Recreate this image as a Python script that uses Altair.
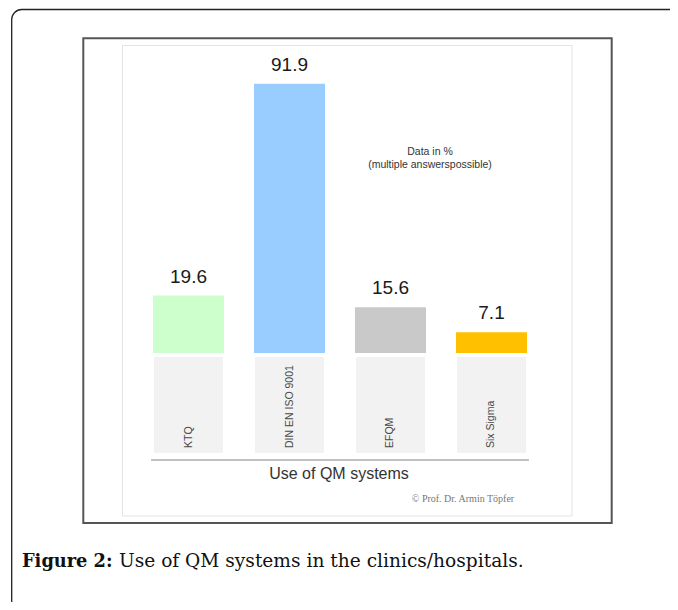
import altair as alt
import pandas as pd

# ---- data ----
categories = ["KTQ", "DIN EN ISO 9001", "EFQM", "Six Sigma"]
values = [19.6, 91.9, 15.6, 7.1]
value_labels = ["19.6", "91.9", "15.6", "7.1"]
bar_colors = ["#ccffcc", "#99ccff", "#c9c9c9", "#ffc000"]
axis_title = "Use of QM systems"
note_lines = ["Data in %", "(multiple answerspossible)"]
credit = "© Prof. Dr. Armin Töpfer"
caption_bold = "Figure 2:"
caption_text = "Use of QM systems in the clinics/hospitals."

df = pd.DataFrame({"system": categories, "share": values, "label": value_labels})
one = pd.DataFrame({"k": [0]})

W, H = 662, 594
SANS = "Liberation Sans"
SERIF = "DejaVu Serif"

xscale = alt.Scale(domain=categories, range=[145, 519], paddingInner=0.297, paddingOuter=0)
yscale = alt.Scale(domain=[0, 100], range=[345, 52])

X = alt.X("system:N", scale=xscale, axis=None, sort=categories)
base = alt.Chart(df)

# frames
outer = alt.Chart(one).mark_rect(fill="transparent", stroke="#222222", strokeWidth=1.3, cornerRadius=10).encode(
    x=alt.value(3.7), x2=alt.value(760), y=alt.value(1.5), y2=alt.value(760))
inner = alt.Chart(one).mark_rect(fill="white", stroke="#555555", strokeWidth=2).encode(
    x=alt.value(75.3), x2=alt.value(603.7), y=alt.value(30.3), y2=alt.value(515))
light = alt.Chart(one).mark_rect(fill="white", stroke="#e3e3e3", strokeWidth=1).encode(
    x=alt.value(114.5), x2=alt.value(564), y=alt.value(37.5), y2=alt.value(508))

label_boxes = base.mark_bar(color="#f2f2f2", width=alt.RelativeBandSize(0.97)).encode(
    x=X, y=alt.value(349), y2=alt.value(445))

bars = base.mark_bar().encode(
    x=X,
    y=alt.Y("share:Q", scale=yscale, axis=None),
    color=alt.Color("system:N", scale=alt.Scale(domain=categories, range=bar_colors), legend=None),
)

value_text = base.mark_text(dy=-19, baseline="middle", fontSize=19, font=SANS, color="#1a1a1a").encode(
    x=X, y=alt.Y("share:Q", scale=yscale, axis=None), text="label:N")

cat_text = base.mark_text(angle=270, align="left", baseline="middle", fontSize=10.5, font=SANS, color="#4a4a4a").encode(
    x=X, y=alt.value(440), text="system:N")

rule = alt.Chart(one).mark_rule(color="#c0c0c0", strokeWidth=2).encode(
    x=alt.value(143), x2=alt.value(521), y=alt.value(452))

note1 = alt.Chart(one).mark_text(text=note_lines[0], fontSize=10.5, font=SANS, color="#333333", baseline="middle").encode(
    x=alt.value(422), y=alt.value(144))
note2 = alt.Chart(one).mark_text(text=note_lines[1], fontSize=10.5, font=SANS, color="#333333", baseline="middle").encode(
    x=alt.value(422), y=alt.value(157))

title_text = alt.Chart(one).mark_text(text=axis_title, fontSize=16, font=SANS, color="#333333", baseline="middle").encode(
    x=alt.value(331), y=alt.value(466))
credit_text = alt.Chart(one).mark_text(text=credit, fontSize=10, font="Liberation Serif", color="#777777", baseline="middle").encode(
    x=alt.value(455), y=alt.value(491))

cap_b = alt.Chart(one).mark_text(text=caption_bold, fontSize=17.8, font=SERIF, fontWeight="bold", color="#111111",
                                  align="left", baseline="alphabetic").encode(x=alt.value(14), y=alt.value(559))
cap_r = alt.Chart(one).mark_text(text=caption_text, fontSize=18.6, font=SERIF, color="#111111",
                                  align="left", baseline="alphabetic").encode(x=alt.value(111), y=alt.value(559))

chart = alt.layer(
    outer, inner, light, label_boxes, bars, value_text, cat_text, rule,
    note1, note2, title_text, credit_text, cap_b, cap_r
).properties(
    width=W, height=H, autosize=alt.AutoSizeParams(type="none"), padding=0, background="white"
).configure_view(strokeWidth=0)

chart.save("out.html", embed_options={"renderer": "svg", "actions": False})
